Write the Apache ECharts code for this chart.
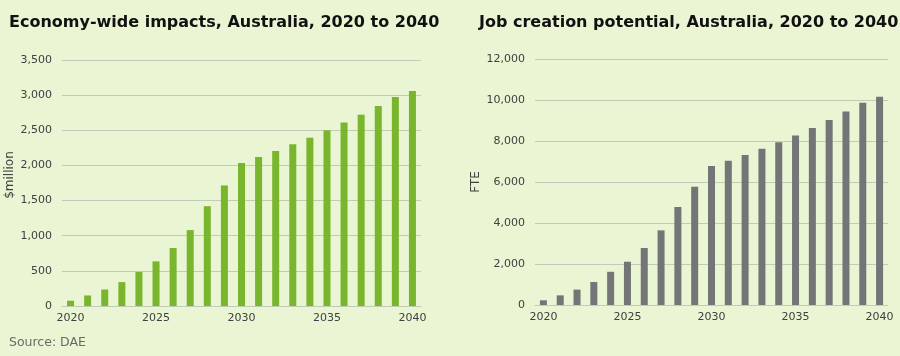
<!DOCTYPE html>
<html><head><meta charset="utf-8">
<script src="https://cdn.jsdelivr.net/npm/echarts@6/dist/echarts.min.js"></script>
<style>html,body{margin:0;padding:0;background:#e9f5d3;}#c{width:900px;height:356px;}</style>
</head><body><div id="c"></div>
<script>
const years = ['2020','2021','2022','2023','2024','2025','2026','2027','2028','2029','2030','2031','2032','2033','2034','2035','2036','2037','2038','2039','2040'];
const economyImpact = [75,150,235,340,485,635,825,1080,1420,1715,2035,2120,2205,2300,2395,2500,2610,2720,2845,2975,3060];
const jobsFTE = [230,470,750,1120,1620,2110,2780,3640,4780,5770,6780,7040,7320,7620,7935,8270,8630,9020,9440,9870,10160];
const leftTitle = 'Economy-wide impacts, Australia, 2020 to 2040';
const rightTitle = 'Job creation potential, Australia, 2020 to 2040';
const sourceText = 'Source: DAE';

const font = '"DejaVu Sans", Verdana, sans-serif';
const chart = echarts.init(document.getElementById('c'));
const labelStyle = {color:'#404040', fontSize:11, fontFamily:font};
function xAx(gi){
  return {type:'category', gridIndex:gi, data:years, boundaryGap:true,
    axisTick:{show:false}, axisLine:{lineStyle:{color:'#c3cab6', width:1}},
    axisLabel:Object.assign({interval:4, margin:7}, labelStyle)};
}
function yAx(gi, max, interval, name, gap, pad){
  return {type:'value', gridIndex:gi, min:0, max:max, interval:interval,
    name:name, nameLocation:'middle', nameGap:gap, nameRotate:90,
    nameTextStyle:{color:'#404040', fontSize:12, fontFamily:font, padding:pad},
    axisLine:{show:false}, axisTick:{show:false},
    splitLine:{lineStyle:{color:'#c3cab6', width:1}},
    axisLabel:Object.assign({margin:10, formatter:v=>v.toLocaleString('en-US')}, labelStyle)};
}
chart.setOption({
  backgroundColor:'#e9f5d3',
  animation:false,
  title:[
    {text:leftTitle, left:9, top:15, padding:0, textStyle:{fontFamily:font, fontWeight:'bold', fontSize:16, color:'#111'}},
    {text:rightTitle, left:479, top:15, padding:0, textStyle:{fontFamily:font, fontWeight:'bold', fontSize:16, color:'#111'}},
    {text:sourceText, left:9, top:336, padding:0, textStyle:{fontFamily:font, fontWeight:'normal', fontSize:12.5, color:'#6a6a6a'}}
  ],
  grid:[
    {left:62, top:60, width:359, height:246},
    {left:535, top:59, width:353, height:246}
  ],
  xAxis:[xAx(0), xAx(1)],
  yAxis:[yAx(0,3500,500,'$million',46,[0,0,0,16]), yAx(1,12000,2000,'FTE',53,0)],
  series:[
    {type:'bar', xAxisIndex:0, yAxisIndex:0, data:economyImpact, barWidth:7, itemStyle:{color:'#7ab52e'}},
    {type:'bar', xAxisIndex:1, yAxisIndex:1, data:jobsFTE, barWidth:7, itemStyle:{color:'#737577'}}
  ]
});
</script></body></html>
